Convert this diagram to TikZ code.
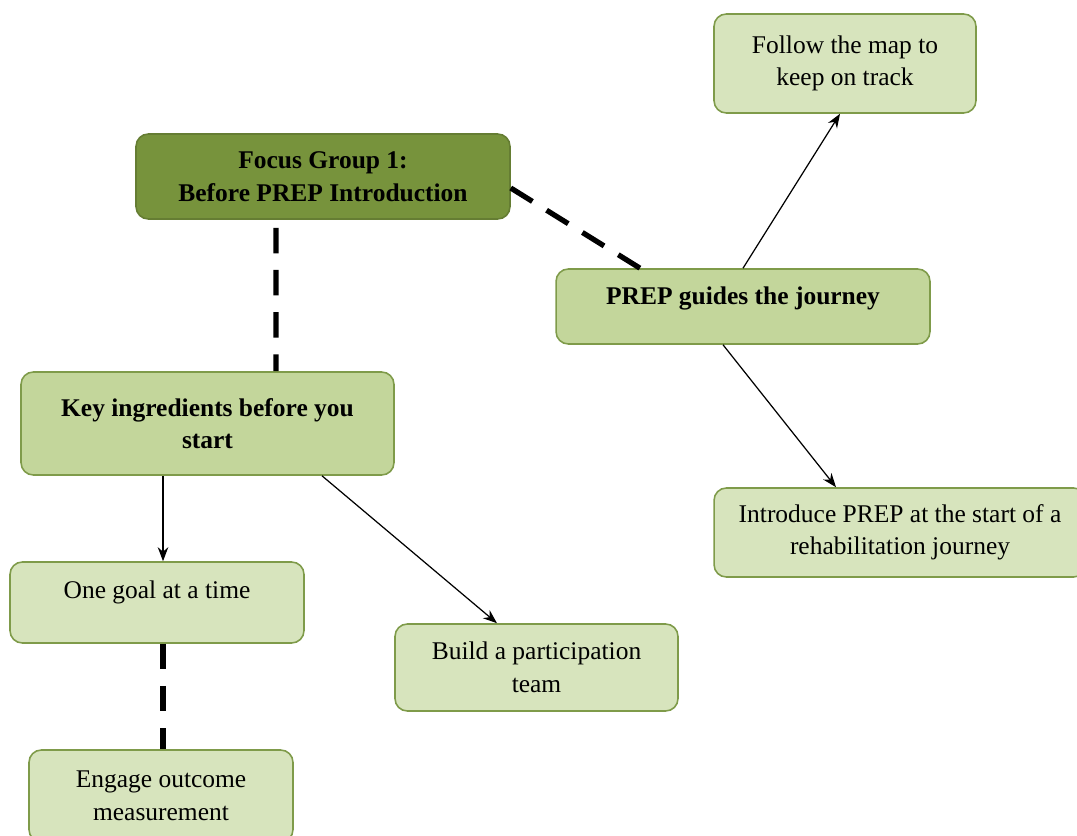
\documentclass[tikz,border=0pt]{standalone}
\usepackage{fontspec}
\setmainfont{Liberation Serif}
\usetikzlibrary{arrows.meta}

\definecolor{darkolive}{HTML}{77933C}
\definecolor{midolive}{HTML}{C3D69B}
\definecolor{paleolive}{HTML}{D7E4BD}
\definecolor{edgeolive}{HTML}{7F9B4A}

\tikzset{
  box/.style={draw=edgeolive, line width=0.9pt, rounded corners=7pt, align=center,
    font=\fontsize{14.5}{18.5}\selectfont},
  topbox/.style={box, fill=darkolive, draw=darkolive!85!black, font=\fontsize{14.5}{18.5}\selectfont\bfseries},
  midbox/.style={box, fill=midolive, font=\fontsize{14.5}{18.5}\selectfont\bfseries},
  leafbox/.style={box, fill=paleolive},
  dashline/.style={line width=3pt, dash pattern=on 14.5pt off 9.5pt},
  arrowline/.style={line width=0.7pt, -{Stealth[length=8pt,width=6pt]}}
}

\begin{document}
\begin{tikzpicture}[x=0.02cm,y=-0.02cm]
  \useasboundingbox (0,0) rectangle (1077,835);

  \node[topbox, minimum width=7.48cm, minimum height=1.7cm] (focus) at (323,176.5) {Focus Group 1:\\Before PREP Introduction};
  \node[leafbox, minimum width=5.24cm, minimum height=1.98cm] (follow) at (845,63.5) {Follow the map to\\keep on track};
  \node[midbox, minimum width=7.48cm, minimum height=1.5cm, text depth=0.42cm] (guide) at (743,306.5) {PREP guides the journey};
  \node[midbox, minimum width=7.46cm, minimum height=2.06cm] (key) at (207.5,423.5) {Key ingredients before you\\start};
  \node[leafbox, minimum width=7.44cm, minimum height=1.78cm] (intro) at (900,532.5) {Introduce PREP at the start of a\\rehabilitation journey};
  \node[leafbox, minimum width=5.88cm, minimum height=1.62cm, text depth=0.52cm] (goal) at (157,602.5) {One goal at a time};
  \node[leafbox, minimum width=5.66cm, minimum height=1.74cm] (build) at (536.5,667.5) {Build a participation\\team};
  \node[leafbox, minimum width=5.28cm, minimum height=1.84cm] (engage) at (161,796) {Engage outcome\\measurement};

  \draw[dashline] ([xshift=-0.94cm,yshift=-0.16cm]focus.south) -- ([xshift=1.37cm]key.north);
  \draw[dashline] ([yshift=-0.23cm]focus.east) -- ([xshift=-2.06cm]guide.north);
  \draw[dashline] ([xshift=0.12cm]goal.south) -- ([xshift=0.12cm]goal.south |- engage.north);

  \draw[arrowline] ([xshift=-0.89cm]key.south) -- ([xshift=-0.89cm]key.south |- goal.north);
  \draw[arrowline] ([xshift=2.29cm]key.south) -- ([xshift=-0.79cm]build.north);
  \draw[arrowline] (guide.north) -- ([xshift=-0.1cm]follow.south);
  \draw[arrowline] ([xshift=-0.4cm]guide.south) -- ([xshift=-1.28cm]intro.north);
\end{tikzpicture}
\end{document}
